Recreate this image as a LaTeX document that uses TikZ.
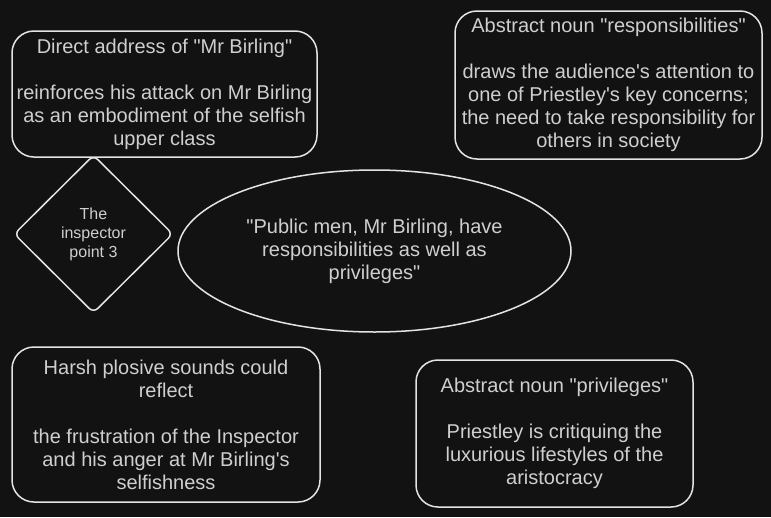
\documentclass[tikz,border=0pt]{standalone}
\usepackage{fontspec}
\setmainfont{Liberation Sans}[Ligatures=TeXOff]
\usepackage{xcolor}
\definecolor{noteBg}{HTML}{121212}
\definecolor{noteLine}{HTML}{E4E4E4}
\definecolor{noteText}{HTML}{CFCFCF}
\usetikzlibrary{shapes.geometric}

\tikzset{
  note/.style={rectangle, rounded corners=22pt, draw=noteLine, line width=1.5pt,
    text=noteText, align=center, inner sep=0pt, font=\fontsize{20}{23}\selectfont},
}

\begin{document}
\begin{tikzpicture}[x=1pt, y=-1pt]
  \filldraw[fill=noteBg, draw=none] (0,0) rectangle (771,517);
  \node[note, minimum width=305pt, minimum height=126pt] (address) at (164.5,94)
    {Direct address of "Mr Birling"\\[23pt]reinforces his attack on Mr Birling\\as an embodiment of the selfish\\upper class};
  \node[note, minimum width=307pt, minimum height=148pt] (responsibilities) at (608.5,85)
    {Abstract noun "responsibilities"\\[23pt]draws the audience's attention to\\one of Priestley's key concerns;\\the need to take responsibility for\\others in society};
  \node[diamond, draw=noteLine, line width=1.5pt, rounded corners=6pt, aspect=1,
    minimum width=159pt, minimum height=158pt, inner sep=0pt, text=noteText,
    align=center, font=\fontsize{16}{19}\selectfont] (inspector) at (93.5,234)
    {The\\inspector\\point 3};
  \node[ellipse, draw=noteLine, line width=1.5pt, minimum width=393pt, minimum height=162pt,
    inner sep=0pt, text=noteText, align=center, font=\fontsize{20}{23}\selectfont] (quote) at (374.5,251)
    {"Public men, Mr Birling, have\\responsibilities as well as\\privileges"};
  \node[note, minimum width=308pt, minimum height=155pt] (plosive) at (166,424.5)
    {Harsh plosive sounds could\\reflect\\[23pt]the frustration of the Inspector\\and his anger at Mr Birling's\\selfishness};
  \node[note, minimum width=277pt, minimum height=147pt] (privileges) at (554.5,433.5)
    {Abstract noun "privileges"\\[23pt]Priestley is critiquing the\\luxurious lifestyles of the\\aristocracy};
\end{tikzpicture}
\end{document}
